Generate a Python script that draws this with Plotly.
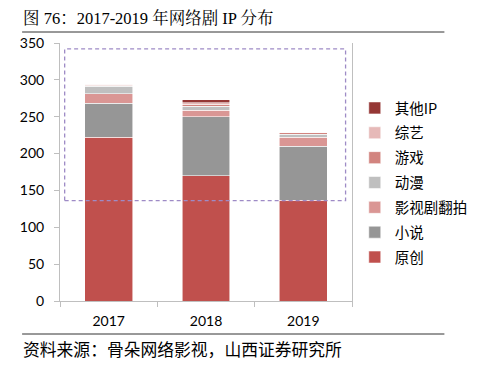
import plotly.graph_objects as go

years = ["2017", "2018", "2019"]
series_names = ["原创", "小说", "影视剧翻拍", "动漫", "游戏", "综艺", "其他IP"]
yuanchuang = [222, 170, 137]
xiaoshuo = [46, 80, 73]
fanpai = [13, 9, 12]
dongman = [10, 5, 4]
youxi = [2, 3, 2]
zongyi = [1, 2, 1]
qita = [0, 4, 0]
share_labels = ["25%", "37.8%", "40%"]
yticks = [0, 50, 100, 150, 200, 250, 300, 350]

series_values = [yuanchuang, xiaoshuo, fanpai, dongman, youxi, zongyi, qita]
colors = ["#C0504D", "#969696", "#DA9694", "#BFBFBF", "#D2847F", "#E6B9B8", "#953735"]

# page body has an 8px margin: the figure is placed at (8, 8)
OFF = 8
PL, PR, PT, PB = 57, 373, 43, 301  # plot area in page pixels
W, H = 485 - OFF, 365 - OFF
pw, ph = PR - PL, PB - PT


def px(xp):
    return (xp - PL) / pw


def py(yp):
    return (PB - yp) / ph


fig = go.Figure()
n = len(series_names)
for i, (name, vals, col) in enumerate(zip(series_names, series_values, colors)):
    fig.add_trace(go.Bar(
        x=years, y=vals, name=name, legendgroup=name, legendrank=n - i,
        marker=dict(color=col, line=dict(color="rgba(255,255,255,0.7)", width=0.8)),
    ))

totals = [sum(v[i] for v in series_values) for i in range(len(years))]
for yr, tot, lab in zip(years, totals, share_labels):
    fig.add_annotation(x=yr, y=tot, text=lab, showarrow=False, yanchor="bottom",
                       yshift=9, font=dict(size=14, color="#000000", family="Lato, Noto Sans CJK SC"))

# dashed highlight box
fig.add_shape(type="rect", xref="x", yref="y", x0=-0.452, x1=2.434, y0=136.3, y1=342,
              line=dict(color="#9E8BC6", width=1.3, dash="4px,3px"), fillcolor="rgba(0,0,0,0)")

# separator lines
for yl in (32, 334):
    fig.add_shape(type="line", xref="paper", yref="paper", x0=px(16), x1=px(473),
                  y0=py(yl), y1=py(yl), line=dict(color="#333333", width=1))

fig.add_annotation(xref="paper", yref="paper", x=px(15), y=py(18), xanchor="left",
                   yanchor="middle", showarrow=False,
                   text="图 76：2017-2019 年网络剧 IP 分布",
                   font=dict(size=16.5, color="#000000", family="Liberation Serif, Noto Serif CJK SC, Noto Sans CJK SC"))
fig.add_annotation(xref="paper", yref="paper", x=px(15), y=py(349), xanchor="left",
                   yanchor="middle", showarrow=False,
                   text="资料来源：骨朵网络影视，山西证券研究所",
                   font=dict(size=16.8, color="#000000", family="Noto Sans CJK SC"))

fig.update_layout(
    width=W, height=H,
    margin=dict(l=PL - OFF, r=W - (PR - OFF), t=PT - OFF, b=H - (PB - OFF)),
    barmode="stack", bargap=0.51,
    plot_bgcolor="white", paper_bgcolor="white",
    showlegend=True,
    legend=dict(traceorder="grouped", tracegroupgap=3, x=px(376), xanchor="left",
                y=py(92), yanchor="top",
                font=dict(size=14.5, color="#000000", family="Noto Sans CJK SC"),
                itemwidth=30, bgcolor="rgba(0,0,0,0)"),
    font=dict(family="Lato, Noto Sans CJK SC"),
)
fig.update_yaxes(range=[0, 350], tickvals=yticks, showline=True, linecolor="#BFBFBF",
                 linewidth=1, mirror=True, ticks="outside", ticklen=5, tickcolor="#BFBFBF",
                 showgrid=False, zeroline=False, tickfont=dict(size=14, color="#000000"),
                 ticklabelstandoff=7)
fig.update_xaxes(showline=True, linecolor="#BFBFBF", linewidth=1, ticks="outside",
                 tickson="boundaries", ticklen=5, tickcolor="#BFBFBF", showgrid=False,
                 tickfont=dict(size=14, color="#000000"), range=[-0.5, 2.5],
                 ticklabelstandoff=7)

fig.write_html("out.html")
